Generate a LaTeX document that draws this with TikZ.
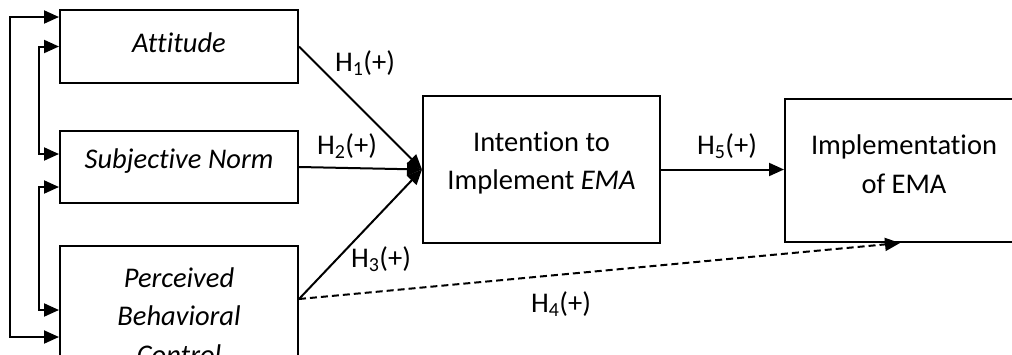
\documentclass[tikz,border=0pt]{standalone}
\usepackage{fontspec}
\setmainfont{Carlito}[Ligatures=NoCommon]
\usetikzlibrary{arrows.meta,calc}

\tikzset{
  box/.style={draw, line width=2pt, rectangle, inner sep=0pt},
  txt/.style={inner sep=0pt, align=center, font=\fontsize{28.5}{38.5}\selectfont},
  hlab/.style={inner sep=0pt, font=\fontsize{28.5}{34}\selectfont},
  link/.style={line width=2pt, -{Triangle[length=15pt,width=13pt]}},
  twoway/.style={line width=2pt, {Triangle[length=15pt,width=13pt]}-{Triangle[length=15pt,width=13pt]}},
  weak/.style={link, dash pattern=on 7pt off 4pt},
}

\begin{document}
\begin{tikzpicture}[x=1pt,y=-1pt]
  \useasboundingbox (0,0) rectangle (1012,354);
  \clip (0,0) rectangle (1012,354);

  % construct boxes
  \node[box, minimum width=238pt, minimum height=73pt] (att) at (179,46.5) {};
  \node[box, minimum width=238pt, minimum height=72pt] (sn)  at (179,167) {};
  \node[box, minimum width=238pt, minimum height=154pt] (pbc) at (179,323) {};
  \node[box, minimum width=237pt, minimum height=147pt] (int) at (541.5,169.5) {};
  \node[box, minimum width=238pt, minimum height=143pt] (imp) at (904,170.5) {};

  % box texts
  \node[txt] (attT) at (179,43) {\itshape Attitude};
  \node[txt] (snT)  at (179,161) {\itshape Subjective Norm};
  \node[txt] (pbcT) at (179,316) {\itshape Perceived\\\itshape Behavioral\\\itshape Control};
  \node[txt] (intT) at (541.5,163) {Intention to\\Implement \textit{EMA}};
  \node[txt] (impT) at (904,164) {Implementation\\of EMA};

  % correlations between the antecedents
  \draw[twoway] ([yshift=-8pt]att.north west) -- ++(-49,0) |- ([yshift=-92pt]pbc.north west);
  \draw[twoway] (att.west) -- ++(-20,0) |- ([yshift=-24pt]sn.north west);
  \draw[twoway] ([yshift=-57pt]sn.north west) -- ++(-20,0) |- ([yshift=-65pt]pbc.north west);

  % hypothesised paths
  \coordinate (pbcOut) at ([yshift=-54pt]pbc.north east);
  \draw[link] (att.east) -- (int.west);
  \draw[link] (sn.east) -- (int.west);
  \draw[link] (pbcOut) -- (int.west);
  \draw[link] (int.east) -- (int.east -| imp.west);
  \draw[weak] (pbcOut) -- ([xshift=-4pt]imp.south);

  % path labels
  \node[hlab] (h1) at (365,63)  {H\textsubscript{1}(+)};
  \node[hlab] (h2) at (347,146) {H\textsubscript{2}(+)};
  \node[hlab] (h3) at (381,259) {H\textsubscript{3}(+)};
  \node[hlab] (h4) at (561,304) {H\textsubscript{4}(+)};
  \node[hlab] (h5) at (727,146) {H\textsubscript{5}(+)};
\end{tikzpicture}
\end{document}
